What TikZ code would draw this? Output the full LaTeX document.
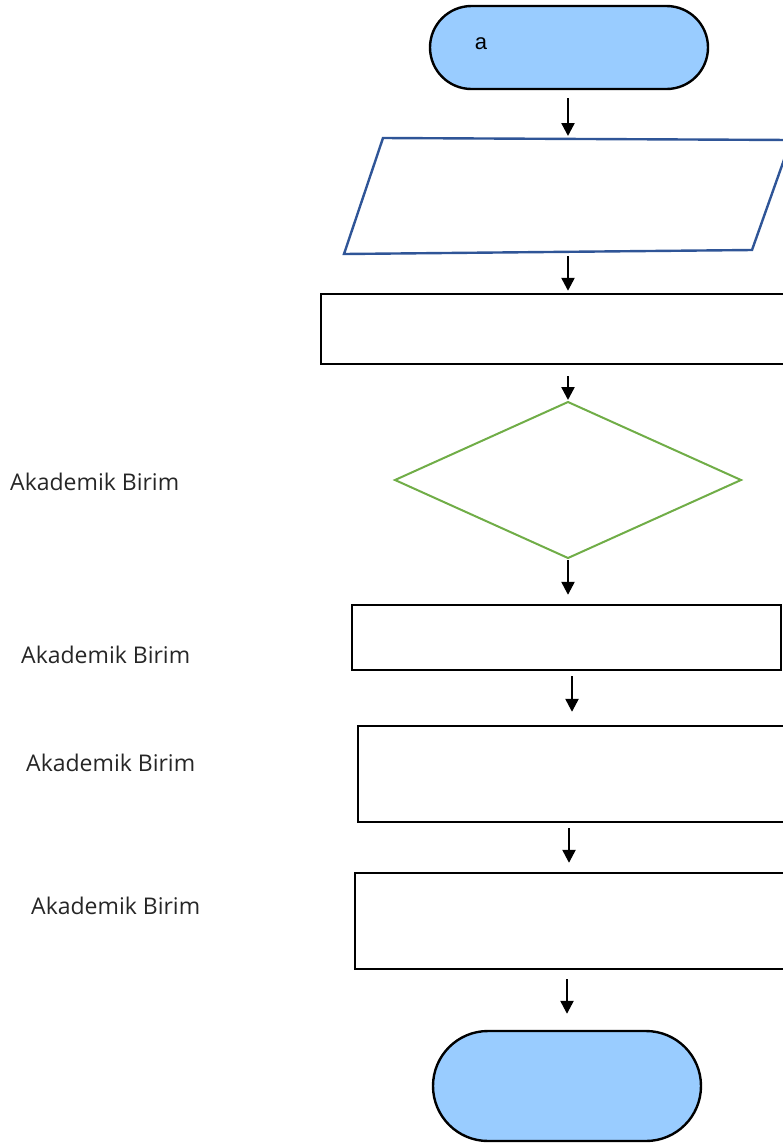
\documentclass[tikz,border=0pt]{standalone}
\usepackage{fontspec}
\setmainfont{Open Sans}
\newfontfamily\arialfont{Liberation Sans}
\usetikzlibrary{arrows.meta,shapes.misc}
\definecolor{termfill}{HTML}{99CCFF}
\definecolor{parablue}{HTML}{2F5597}
\definecolor{diagreen}{HTML}{70AD47}
\tikzset{
  term/.style={rounded rectangle, draw=black, line width=2.4pt, fill=termfill, inner sep=0pt},
  procbox/.style={rectangle, draw=black, line width=2.4pt, inner sep=0pt},
  arr/.style={line width=2.4pt, -{Triangle[width=13pt,length=13pt]}},
  lbl/.style={anchor=west, font=\fontsize{23}{27}\selectfont, inner sep=0pt, text=black!85},
}
\begin{document}
\begin{tikzpicture}[x=1pt,y=-1pt]
\useasboundingbox (0,0) rectangle (783,1144);
% start terminal
\node[term, minimum width=278pt, minimum height=83pt] (start) at (569,47.5) {};
\node[font=\arialfont\fontsize{22}{26}\selectfont, inner sep=0pt] (starttxt) at (481,44) {a};
% parallelogram (input)
\coordinate (pTL) at (383,138);
\coordinate (pTR) at (791,140);
\coordinate (pBR) at (752,250);
\coordinate (pBL) at (344,254);
\coordinate (ptop) at (568,139);
\coordinate (pbot) at (568,252);
\draw[draw=parablue, line width=2.4pt, line join=miter] (pTL) -- (pTR) -- (pBR) -- (pBL) -- cycle;
% process 2
\node[procbox, minimum width=479pt, minimum height=70pt] (proc2) at (560.5,329) {};
% decision diamond
\coordinate (dL) at (395,480);
\coordinate (dT) at (568,402);
\coordinate (dR) at (741,480);
\coordinate (dB) at (568,558);
\draw[draw=diagreen, line width=2pt] (dL) -- (dT) -- (dR) -- (dB) -- cycle;
% process 3,4,5
\node[procbox, minimum width=429pt, minimum height=65pt] (proc3) at (566.5,637.5) {};
\node[procbox, minimum width=442pt, minimum height=96pt] (proc4) at (579,774) {};
\node[procbox, minimum width=445pt, minimum height=96pt] (proc5) at (577.5,921) {};
% end terminal
\node[term, minimum width=268pt, minimum height=110pt] (stop) at (567,1086) {};
% connectors
\draw[arr, shorten <=8pt, shorten >=3pt] (start.south -| ptop) -- (ptop);
\draw[arr, shorten <=4pt, shorten >=2pt] (pbot) -- (pbot |- proc2.north);
\draw[arr, shorten <=11pt, shorten >=2pt] (proc2.south -| dT) -- (dT);
\draw[arr, shorten <=2pt, shorten >=9pt] (dB) -- (dB |- proc3.north);
\coordinate (c5) at (572,670);
\draw[arr, shorten <=6pt, shorten >=13pt] (c5) -- (c5 |- proc4.north);
\coordinate (c6) at (569,822);
\draw[arr, shorten <=6pt, shorten >=9pt] (c6) -- (c6 |- proc5.north);
\draw[arr, shorten <=9pt, shorten >=16pt] (proc5.south -| stop.north) -- (stop.north);
% side labels
\node[lbl] (l1) at (10,482) {Akademik Birim};
\node[lbl] (l2) at (21,655) {Akademik Birim};
\node[lbl] (l3) at (26,763) {Akademik Birim};
\node[lbl] (l4) at (31,906) {Akademik Birim};
\end{tikzpicture}
\end{document}
